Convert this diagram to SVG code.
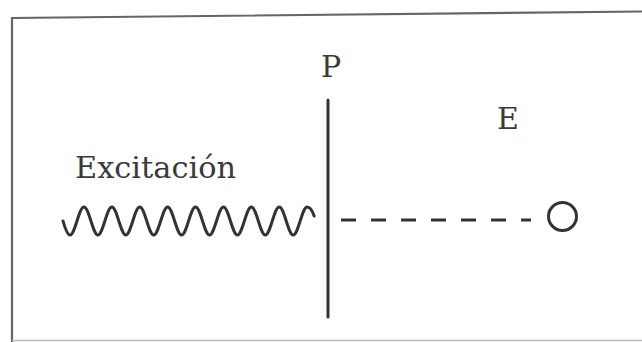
<svg xmlns="http://www.w3.org/2000/svg" width="642" height="342" viewBox="0 0 642 342">
  <style>
    .lbl { font-family: "DejaVu Serif", "Liberation Serif", serif; font-size: 30px; fill: #3a3a3a; }
    .ink { fill: none; stroke: #333; stroke-width: 3; stroke-linecap: round; }
    .frame { fill: none; stroke: #666; stroke-width: 2.2; }
  </style>
  <rect width="642" height="342" fill="#fff"/>
  <g id="frame">
    <polyline class="frame" points="12,342 12,18 642,11.5"/>
    <line x1="12" y1="340.5" x2="642" y2="340.5" stroke="#bbb" stroke-width="1.5"/>
  </g>
  <g id="excitacion">
    <text class="lbl" x="75" y="178" textLength="161" lengthAdjust="spacingAndGlyphs">Excitación</text>
    <path class="ink" d="M63,221 C65,228 67.5,235 70,235 c5.08,0 8.87,-28 13.95,-28 c5.08,0 8.87,28 13.95,28 c5.08,0 8.87,-28 13.95,-28 c5.08,0 8.87,28 13.95,28 c5.08,0 8.87,-28 13.95,-28 c5.08,0 8.87,28 13.95,28 c5.08,0 8.87,-28 13.95,-28 c5.08,0 8.87,28 13.95,28 c5.08,0 8.87,-28 13.95,-28 c5.08,0 8.87,28 13.95,28 c5.08,0 8.87,-28 13.95,-28 c5.08,0 8.87,28 13.95,28 c5.08,0 8.87,-28 13.95,-28 c5.08,0 8.87,28 13.95,28 c5.08,0 8.87,-28 13.95,-28 c5.08,0 8.87,28 13.95,28 c5.08,0 8.87,-28 13.95,-28 c3,0 5,3 7,9"/>
  </g>
  <g id="P">
    <text class="lbl" x="321" y="77">P</text>
    <line class="ink" x1="328" y1="100" x2="328" y2="317" stroke-linecap="butt"/>
  </g>
  <g id="E">
    <text class="lbl" x="497" y="129">E</text>
    <circle class="ink" cx="562.5" cy="216.5" r="14"/>
  </g>
  <g id="connectors">
    <line x1="341" y1="220" x2="531" y2="220" stroke="#333" stroke-width="3" stroke-dasharray="15 15"/>
  </g>
</svg>
